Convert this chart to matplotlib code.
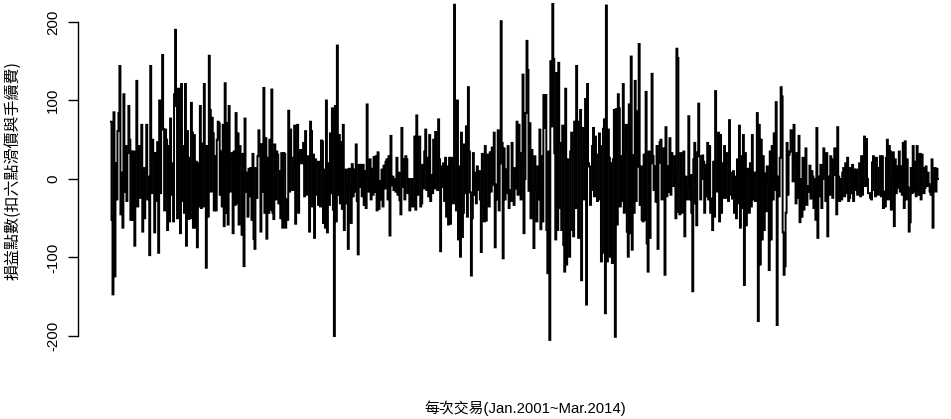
import numpy as np
import matplotlib
matplotlib.use("Agg")
import matplotlib.pyplot as plt

# Profit/loss per trade (points), in trade order
pnl_part1 = [73, -52, -147, 85, -124, 20, -26, 61, 84, 144,
             -45, 8, -62, 108, -16, 42, -28, 33,
             93, 50, -52, 35, -52, 35, -85, 33, 125, -35,
             42, 18, -24, 69, -67, 14, -50, 8,
             69, -26, 3, -97, 144, -18, 50, 33, -68, 33,
             -28, 47, -94, 100, -18, 87, 158, 63, -40, 63,
             50, -65, 42, -54, 77, -20, 20, -54,
             108, 190, 93, -50, 115, 63, -69, 121, -28, 42,
             -43, 121, -85, 61, -51, 27, -50, 97, 59, -62,
             56, -62, 22, -87, 20, -35, 93, -37, 45, -35,
             121, 42, -113, 42, -48, 157, 88, -16, 78, 58,
             -40, 29, -40, 50, 73, 71, -20,
             35, -35, 69, -60, 122, -43, 71, -58,
             93, -16, 25, 33, -69, 35, -33, 84, -31, 58,
             -58, 42, 20, -71, 32, -111, 77, -16, 8, -48,
             13, -22, 14, -52, 32, -76, -89, 14, -24,
             29, 62, 44, -67, 44, -16, 116, -43, 52, -76,
             27, -43, 50, -39, 114, -43, -51, 44,
             -26, 35, 31, -31, 10, -50, 33, -62, 33, 32,
             -62, -26, -52, 87, -16, 63, 27, -14, 16, 68,
             -57, 20, 69, -43, 34, 37, 20, 29, 46, -22,
             61, -20, 27, 29, -67, 73, 61, -35, 31, -75,
             25, 22, -20, -33, 22, -35, 49]
pnl_part2 = [48, -56, 12, -62, 100, -68, 20, -33, 58, -18, 90, -39, -200, 93, -54, 170, -20, 56, -31, 47,
             -38, 69, -65, -31, 12, -14, -89, 13, -12, -56, 19, -22, 12, -16, 44, -28, -96, 18, -10, 18,
             -22, 18, -33, 10, -37, 95, 1, -16, 25, -26, 13, -20, 28, -16, 29, -40, 34, -38, -3, -26,
             12, -35, 17, -12, 22, 25, -26, 29, -72, 55, -8, 3, -14, 0, -16, 27, -20, 8, -27, -45,
             65, -10, 25, -26, 29, 25, -18, 0, -40, -33, 0, -35, -26, 54, -39, 81, -20, 50, 54, -35,
             -31, 18, -12, 35, 63, -14, 27, -22, 56, -28, 5, -18, 50, -12, 60, 27, -14, 76, 25, -92,
             16, -10, 20, -28, 27, -48, 16, -58, 27, -57, 27, 18, -31, 222, 42, -40, 100, -77, 16, -99,
             59, -74, -43, 44, -18, 67, -48, 117, 35, -17, -123, -50, 33, -20, 8, -31, 16, -14, 10, -26,
             -93, 32, -35, -54, 42, -53, 27, 31, -35, 34, -16, 40, -7, 59, -87, -7, -26, 62, -40, 20,
             201, 46, -101, 39, -26, 12, -18, 42, -37, -14, -28, 46, 8, -33, 14, -12, 73, -20, 69, 33,
             -26, 20, 133, -69, 0, 84, 176, 139, -15, 71, -50, 37, -20, -88, 29, -13, -54]
pnl_part3 = [16, -26, 63, -64, 29, -54, 107, 65, 107, -65, -120, 35, -205, 150, 67, 223, 153, 33, -77, 135,
             -65, 148, 46, -37, -65, 68, -84, -118, 115, -109, 25, -71, -99, 35, 59, -65, -73, 73, -37, 144,
             73, -75, 46, 88, -129, 25, 65, -26, 102, -160, 121, 20, 16, -33, -14, 42, 65, -22, 54, 31, -28,
             -26, 58, 42, -105, -94, 64, 76, -171, 221, -105, 63, 27, -99, 20, -107, 25, 88, -201, 89, -58,
             108, 90, -35, 29, -28, 121, -43, 35, 69, -67, -99, 95, -69, 156, -90, 30, -43, 125, -28, 86, 16,
             172, -33, 16, -52, -54, 31, -52, 111, -82, -118, 35, -75, 20, 134, 29, -14, 16, -29, 42, -89, 21,
             47, 50, -26, 20, 39, -122, 66, -22, 16, -16, 52, -20, 33, 8, -9, 29, -50, 166, 154, -42, -45, 33,
             -43, -39, 35, -73, 3, -26, -9, 80, -26, 5, -43, -143, 25, 46, -31, -59, 34, 96, 29, -26, 0, 30,
             22, -43, 18, -22, 46, -26, 42, -43, -25, -65, 22, -48, 112, 54, -16, 59, -54, 56, -43, 20, -24,
             42, -24, 33, 31, -28, 75, 8, -20, -25, 10, -43, 3, -50, 25, -31, 68, -62, 29, -37, 56, -135, 33,
             -59, 12, 13, -43, 20, -35, 56, -26, 8, -28, 8]
pnl_part4 = [84, -181, 69, -109, 50, -77, 29, -65, 7, -41, 16, -5, -116, 35, -77, 42, -26, 58, -14, 98, -186,
             3, -22, 27, 117, 105, -68, -122, -111, -43, 46, -20, 31, 35, 62, 61, -3, 69, 22, -31, 33, -24,
             55, -55, 0, -48, 27, -39, 25, 39, -33, -9, -16, 17, -25, 10, 3, -37, 0, -52, 65, -75, 3, -22,
             18, -37, 0, 39, 31, -28, 33, -73, 3, -20, 29, 25, -24, 14, 39, 5, -45, 66, 3, -28, 0, -26, 8, 14,
             -22, 20, -18, 27, -28, -24, 14, -18, 18, -28, 12, -14, 12, -20, -18,
             20, -22, 29, -20, 29, 54, -9, 51, 0, -18, -18, -24, -26, 21, 29, -14, -22, 27,
             -16, -20, 14, 29, -22, 29, -37, -16, -35, 27, 50, -26, 42, 35, -39, 0, 34, -60, 25,
             -18, 16, -11, 35, -16, 16, -20, 46, -37, 48, -26, 25, -11, -67, -55, 14, -18, 42,
             -16, 22, -22, 42, -14, -20, 32, -26, 31, 14, -18, -11, 16, -9, 8, -7, -16,
             -20, 25, -62, 0, 14, -16, 13, 0]

y_ticks = [-200, -100, 0, 100, 200]
y_label = "損益點數(扣六點滑價與手續費)"
x_label = "每次交易(Jan.2001~Mar.2014)"

pnl = np.array(pnl_part1 + pnl_part2 + pnl_part3 + pnl_part4, dtype=float)
trade_no = np.arange(1, len(pnl) + 1)

W, H = 951, 419
fig = plt.figure(figsize=(W / 100, H / 100), dpi=100)

# axes box in pixels: y-axis line at x=78, y=200 at 22px, y=-200 at 336px
ax_left, ax_right = 78, 945
ax_top, ax_bot = 22, 336
ax = fig.add_axes([ax_left / W, 1 - ax_bot / H, (ax_right - ax_left) / W, (ax_bot - ax_top) / H])

# data span in pixels: first trade at 111 px, last at 938 px
px_first, px_last = 111, 938
scale = (px_last - px_first) / (len(pnl) - 1)
x0 = 1 - (px_first - ax_left) / scale
x1 = x0 + (ax_right - ax_left) / scale
ax.set_xlim(x0, x1)
ax.set_ylim(-200, 200)

ax.plot(trade_no, pnl, color="black", linewidth=1.4, clip_on=False,
        drawstyle="steps-mid", solid_joinstyle="miter")

for s in ["top", "right", "bottom"]:
    ax.spines[s].set_visible(False)
ax.spines["left"].set_linewidth(1.0)
ax.set_xticks([])
ax.set_yticks(y_ticks)
ax.set_yticklabels([str(t) for t in y_ticks], rotation=90, va="center",
                   fontfamily=["Liberation Sans"], fontsize=10.8)
ax.tick_params(axis="y", length=7, width=1.0, pad=6)

fig.text(13 / W, 1 - 170 / H, y_label, rotation=90, ha="center", va="center",
         fontsize=11.5, family=["Noto Sans CJK TC", "DejaVu Sans"])
fig.text(525 / W, 1 - 408 / H, x_label, ha="center", va="center",
         fontsize=10.7, family=["Liberation Sans", "Noto Sans CJK TC"])

fig.savefig("out.png", dpi=100)
